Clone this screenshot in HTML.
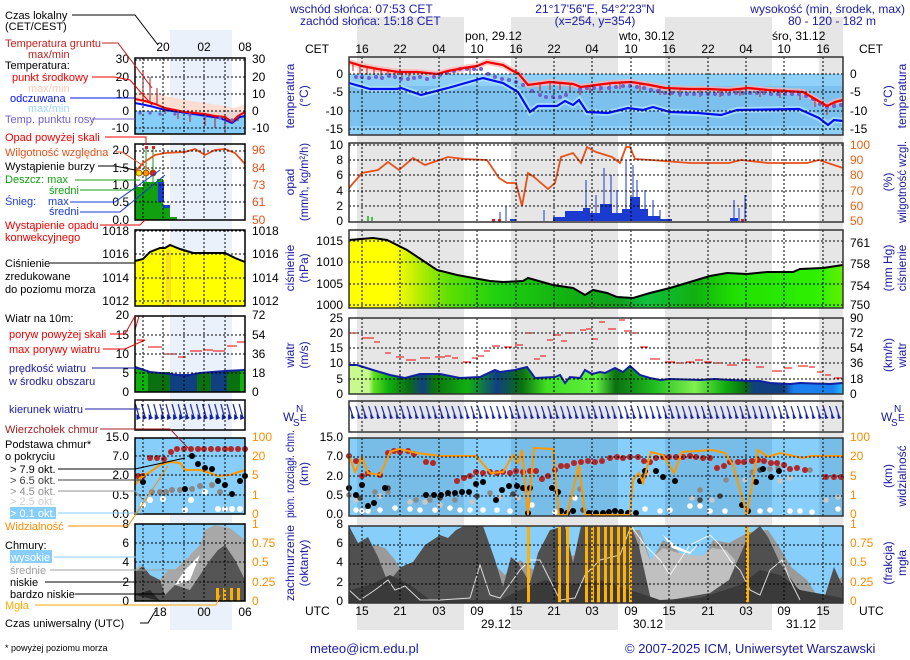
<!DOCTYPE html>
<html><head><meta charset="utf-8"><style>
html,body{margin:0;padding:0;background:#fff}
svg{display:block;font-family:"Liberation Sans",sans-serif}
</style></head><body>
<svg width="910" height="660" viewBox="0 0 910 660" xmlns="http://www.w3.org/2000/svg" font-size="12">
<defs>
<pattern id="wd" x="349" y="402" width="6.4" height="30" patternUnits="userSpaceOnUse">
<path d="M0.5 4 L4 15" stroke="#1020a0" stroke-width="1.2" fill="none"/>
<path d="M2 12 L6 16 L2.5 17 Z" fill="#1020a0"/>
</pattern>
<pattern id="wdm" x="135" y="400" width="6.1" height="30" patternUnits="userSpaceOnUse">
<path d="M0.5 4 L4 17" stroke="#1020a0" stroke-width="1.2" fill="none"/>
<path d="M1.5 14 L6 18 L1.5 20 Z" fill="#1020a0"/>
</pattern>
</defs>

<g fill="#e6e6e6">
<rect x="357" y="17" width="107" height="613"/>
<rect x="511" y="17" width="107" height="613"/>
<rect x="665" y="17" width="107" height="613"/>
<rect x="819" y="17" width="24" height="613"/>
</g>
<rect x="170" y="30" width="62" height="600" fill="#eaf1fb"/>

<g fill="#1a1aa0">
<text x="290" y="13">wschód słońca: 07:53 CET</text>
<text x="300" y="25">zachód słońca: 15:18 CET</text>
<text x="595" y="13" text-anchor="middle">21°17'56"E, 54°2'23"N</text>
<text x="595" y="25" text-anchor="middle">(x=254, y=354)</text>
<text x="905" y="13" text-anchor="end">wysokość (min, środek, max)</text>
<text x="832" y="25" text-anchor="middle">80 - 120 - 182 m</text>
</g>
<g fill="#000">
<text x="465" y="40">pon, 29.12</text>
<text x="619" y="40">wto, 30.12</text>
<text x="772" y="40">śro, 31.12</text>
<text x="305" y="53">CET</text>
<text x="859" y="53">CET</text>
<g text-anchor="middle">
<text x="362" y="53">16</text><text x="400" y="53">22</text><text x="439" y="53">04</text><text x="477" y="53">10</text><text x="516" y="53">16</text><text x="554" y="53">22</text><text x="592" y="53">04</text><text x="631" y="53">10</text><text x="669" y="53">16</text><text x="708" y="53">22</text><text x="746" y="53">04</text><text x="784" y="53">10</text><text x="823" y="53">16</text>
<text x="362" y="615">15</text><text x="400" y="615">21</text><text x="439" y="615">03</text><text x="477" y="615">09</text><text x="516" y="615">15</text><text x="554" y="615">21</text><text x="592" y="615">03</text><text x="631" y="615">09</text><text x="669" y="615">15</text><text x="708" y="615">21</text><text x="746" y="615">03</text><text x="784" y="615">09</text><text x="823" y="615">15</text>
<text x="496" y="628">29.12</text><text x="648" y="628">30.12</text><text x="801" y="628">31.12</text>
</g>
<text x="305" y="615">UTC</text>
<text x="859" y="615">UTC</text>
</g>

<!-- TEMP -->
<rect x="349" y="74" width="494" height="61" fill="#86cdf7" opacity="0.92"/>
<rect x="349" y="86" width="494" height="40" fill="#70b6e6" opacity="0.55"/>
<polyline points="349,62 362,66 378,69 399,72 417,72 437,74 448,71 464,68 477,66 487,62 503,65 513,71 518,73 528,85 550,82 573,84 581,87 596,85 612,83 631,82 650,85 665,88 690,89 708,89 729,90 748,88 768,90 803,92 815,99 827,106 835,102 843,100" fill="none" stroke="#ffb0b0" stroke-width="6" opacity="0.7"/>
<polyline points="349,83 370,89 397,89 401,88 421,95 448,88 483,78 503,83 518,92 530,112 538,106 557,106 565,101 573,105 579,100 587,112 608,113 628,108 643,110 653,107 670,112 698,113 721,115 737,110 799,109 819,118 828,125 834,120 843,121" fill="none" stroke="#b0e4ff" stroke-width="6" opacity="0.8"/>
<g stroke="#c02020" stroke-width="1">
<path d="M353 63v8M360 65v9M367 66v9M374 67v8M381 69v7M388 70v7M395 71v6M402 72v6M409 72v5M470 67v6M540 84v7M550 83v7M560 83v7M570 84v8M580 87v8M590 86v7M600 85v8M610 83v8M620 82v7M640 84v8M660 87v8M670 88v8M680 89v8M700 89v8M720 90v7M740 88v8M760 90v7M780 90v8M800 92v8M815 99v8M827 106v9M835 102v6"/>
</g>
<g fill="#7060d0">
<circle cx="356" cy="77" r="2"/><circle cx="362" cy="77" r="2"/><circle cx="369" cy="78" r="2"/><circle cx="376" cy="77" r="2"/><circle cx="382" cy="78" r="2"/><circle cx="389" cy="76" r="2"/><circle cx="395" cy="77" r="2"/><circle cx="401" cy="79" r="2"/><circle cx="408" cy="79" r="2"/><circle cx="414" cy="78" r="2"/><circle cx="420" cy="77" r="2"/><circle cx="427" cy="79" r="2"/><circle cx="434" cy="77" r="2"/><circle cx="440" cy="75" r="2"/><circle cx="447" cy="73" r="2"/><circle cx="454" cy="71" r="2"/><circle cx="460" cy="69" r="2"/><circle cx="467" cy="69" r="2"/><circle cx="474" cy="69" r="2"/><circle cx="481" cy="69" r="2"/><circle cx="488" cy="74" r="2"/><circle cx="495" cy="77" r="2"/><circle cx="502" cy="79" r="2"/><circle cx="509" cy="80" r="2"/><circle cx="516" cy="82" r="2"/><circle cx="523" cy="85" r="2"/><circle cx="532" cy="91" r="2"/><circle cx="540" cy="95" r="2"/><circle cx="546" cy="97" r="2"/><circle cx="553" cy="97" r="2"/><circle cx="560" cy="97" r="2"/><circle cx="566" cy="95" r="2"/><circle cx="580" cy="89" r="2"/><circle cx="587" cy="88" r="2"/><circle cx="594" cy="88" r="2"/><circle cx="601" cy="88" r="2"/><circle cx="609" cy="88" r="2"/><circle cx="616" cy="87" r="2"/><circle cx="623" cy="86" r="2"/><circle cx="630" cy="86" r="2"/><circle cx="637" cy="87" r="2"/><circle cx="644" cy="88" r="2"/><circle cx="651" cy="90" r="2"/><circle cx="658" cy="91" r="2"/><circle cx="665" cy="93" r="2"/><circle cx="672" cy="93" r="2"/><circle cx="680" cy="94" r="2"/><circle cx="687" cy="94" r="2"/><circle cx="694" cy="94" r="2"/><circle cx="701" cy="94" r="2"/><circle cx="708" cy="94" r="2"/><circle cx="715" cy="94" r="2"/><circle cx="722" cy="94" r="2"/><circle cx="729" cy="94" r="2"/><circle cx="736" cy="93" r="2"/><circle cx="743" cy="93" r="2"/><circle cx="750" cy="93" r="2"/><circle cx="757" cy="93" r="2"/><circle cx="764" cy="93" r="2"/><circle cx="771" cy="94" r="2"/><circle cx="778" cy="94" r="2"/><circle cx="785" cy="94" r="2"/><circle cx="792" cy="94" r="2"/><circle cx="799" cy="94" r="2"/><circle cx="806" cy="96" r="2"/><circle cx="813" cy="99" r="2"/><circle cx="820" cy="104" r="2"/><circle cx="827" cy="107" r="2"/><circle cx="834" cy="106" r="2"/><circle cx="841" cy="105" r="2"/>
</g>
<polyline points="349,62 362,66 378,69 399,72 417,72 437,74 448,71 464,68 477,66 487,62 503,65 513,71 518,73 528,85 550,82 573,84 581,87 596,85 612,83 631,82 650,85 665,88 690,89 708,89 729,90 748,88 768,90 803,92 815,99 827,106 835,102 843,100" fill="none" stroke="#f00000" stroke-width="2.2"/>
<polyline points="349,83 370,89 397,89 401,88 421,95 448,88 483,78 503,83 518,92 530,112 538,106 557,106 565,101 573,105 579,100 587,112 608,113 628,108 643,110 653,107 670,112 698,113 721,115 737,110 799,109 819,118 828,125 834,120 843,121" fill="none" stroke="#0010f0" stroke-width="2.2"/>

<!-- PRECIP -->
<g fill="#1a3ad0">
<rect x="553" y="217" width="12" height="4"/><rect x="565" y="211" width="18" height="10"/><rect x="583" y="208" width="7" height="13"/><rect x="590" y="213" width="10" height="8"/><rect x="600" y="204" width="12" height="17"/><rect x="612" y="213" width="10" height="8"/><rect x="622" y="209" width="8" height="12"/><rect x="630" y="197" width="10" height="24"/><rect x="640" y="209" width="8" height="12"/><rect x="648" y="216" width="12" height="5"/><rect x="660" y="219" width="12" height="2"/><rect x="730" y="218" width="8" height="3"/><rect x="510" y="219" width="6" height="2"/>
</g>
<g stroke="#1a3ad0" stroke-width="1">
<path d="M586 221V180M596 221V195M604 221V168M611 221V175M617 221V190M626 221V160M633 221V165M637 221V180M645 221V190M653 221V200M660 221V210M734 221V200M739 221V208M745 221V195M500 221V212M506 221V206M544 221V210"/>
</g>
<path d="M368 221v-5M372 221v-4" stroke="#10b010" stroke-width="1.5"/>
<rect x="492" y="219" width="3" height="3" fill="#e02020"/><rect x="498" y="219" width="3" height="3" fill="#e02020"/><rect x="741" y="219" width="3" height="3" fill="#e02020"/>
<polyline points="349,188 362,173 378,170 388,162 399,170 413,158 425,165 448,157 464,159 487,160 499,178 507,183 516,183 522,206 528,173 534,177 548,189 555,183 561,157 573,153 581,163 587,147 596,152 612,157 620,163 626,147 630,147 635,159 651,160 690,163 729,163 741,160 768,163 807,163 819,160 843,168" fill="none" stroke="#e8501a" stroke-width="1.8"/>

<!-- PRESSURE -->
<defs>
<linearGradient id="pg" x1="349" x2="843" gradientUnits="userSpaceOnUse">
<stop offset="0" stop-color="#ffff00"/><stop offset="0.09" stop-color="#ffff00"/><stop offset="0.13" stop-color="#c8f000"/><stop offset="0.2" stop-color="#60e000"/><stop offset="0.3" stop-color="#20d010"/><stop offset="0.45" stop-color="#10b010"/><stop offset="0.55" stop-color="#10a020"/><stop offset="0.6" stop-color="#10c040"/><stop offset="0.7" stop-color="#10b010"/><stop offset="0.78" stop-color="#20e000"/><stop offset="0.95" stop-color="#30f000"/><stop offset="1" stop-color="#60f000"/>
</linearGradient>
</defs>
<polygon points="349,240 373,238 387,240 407,250 437,270 457,275 490,281 503,282 523,281 528,278 553,285 573,288 585,295 593,290 607,293 617,297 633,298 650,293 670,288 690,282 710,276 727,273 747,274 767,272 793,272 800,269 823,268 843,265 843,308 349,308" fill="url(#pg)"/>
<polyline points="349,240 373,238 387,240 407,250 437,270 457,275 490,281 503,282 523,281 528,278 553,285 573,288 585,295 593,290 607,293 617,297 633,298 650,293 670,288 690,282 710,276 727,273 747,274 767,272 793,272 800,269 823,268 843,265" fill="none" stroke="#000" stroke-width="2"/>

<!-- WIND -->
<defs>
<linearGradient id="wg" x1="349" x2="843" gradientUnits="userSpaceOnUse">
<stop offset="0" stop-color="#c8f890"/><stop offset="0.04" stop-color="#c8f890"/><stop offset="0.05" stop-color="#60e020"/><stop offset="0.08" stop-color="#10b010"/><stop offset="0.12" stop-color="#0a7010"/><stop offset="0.15" stop-color="#104080"/><stop offset="0.17" stop-color="#0a7010"/><stop offset="0.24" stop-color="#10b010"/><stop offset="0.3" stop-color="#104080"/><stop offset="0.35" stop-color="#0a7010"/><stop offset="0.4" stop-color="#40e020"/><stop offset="0.5" stop-color="#60f040"/><stop offset="0.54" stop-color="#0a7010"/><stop offset="0.62" stop-color="#20c020"/><stop offset="0.7" stop-color="#80f050"/><stop offset="0.76" stop-color="#10b010"/><stop offset="0.8" stop-color="#0a7010"/><stop offset="0.82" stop-color="#104080"/><stop offset="0.88" stop-color="#104080"/><stop offset="0.9" stop-color="#1a80f0"/><stop offset="0.98" stop-color="#1a80f0"/><stop offset="1" stop-color="#20c0ff"/>
</linearGradient>
</defs>
<polygon points="349,365 357,365 373,370 390,375 405,378 420,374 440,374 460,378 480,377 495,370 500,372 515,370 527,367 535,378 555,377 560,375 565,383 570,377 580,378 585,370 592,374 600,372 605,373 615,368 623,372 630,366 640,375 650,378 660,380 670,379 700,380 715,379 730,380 750,381 760,381 770,383 790,384 800,383 830,384 843,383 843,394 349,394" fill="url(#wg)"/>
<polyline points="349,365 357,365 373,370 390,375 405,378 420,374 440,374 460,378 480,377 495,370 500,372 515,370 527,367 535,378 555,377 560,375 565,383 570,377 580,378 585,370 592,374 600,372 605,373 615,368 623,372 630,366 640,375 650,378 660,380 670,379 700,380 715,379 730,380 750,381 760,381 770,383 790,384 800,383 830,384 843,383" fill="none" stroke="#1020a0" stroke-width="2"/>
<g stroke="#f00000" stroke-width="1">
<path d="M349 333h10M362 338h12M374 342h6M385 353h6M396 357h8M406 360h10M420 358h10M435 357h10M445 356h6M452 358h6M463 362h8M472 358h6M478 356h6M484 351h6M492 346h8M504 347h8M515 345h8M525 333h8M534 359h6M540 356h6M547 340h6M553 335h8M561 341h6M566 333h8M580 330h6M586 329h6M592 339h6M599 322h6M608 329h8M619 320h6M624 331h6M631 333h6M640 347h8M650 359h10M665 362h10M676 363h8M686 362h8M695 360h8M704 362h8M713 363h8M727 365h10M742 360h8M756 367h8M772 371h10M784 368h8M798 366h10M809 367h6M817 372h6M825 375h6M834 378h8"/>
</g>

<rect x="349" y="402" width="494" height="28" fill="url(#wd)"/>

<!-- CLOUD HEIGHT -->
<rect x="349" y="438" width="494" height="78" fill="#87cefa"/>
<g fill="#78bce8">
<rect x="357" y="438" width="107" height="78"/><rect x="511" y="438" width="107" height="78"/><rect x="665" y="438" width="107" height="78"/><rect x="819" y="438" width="24" height="78"/>
</g>
<g fill="#fff">
<circle cx="356" cy="510" r="2.8"/><circle cx="362" cy="511" r="2.8"/><circle cx="368" cy="511" r="2.8"/><circle cx="380" cy="510" r="2.8"/><circle cx="395" cy="508" r="2.8"/><circle cx="410" cy="509" r="2.8"/><circle cx="420" cy="510" r="2.8"/><circle cx="435" cy="510" r="2.8"/><circle cx="450" cy="508" r="2.8"/><circle cx="460" cy="510" r="2.8"/><circle cx="470" cy="510" r="2.8"/><circle cx="483" cy="510" r="2.8"/><circle cx="497" cy="510" r="2.8"/><circle cx="510" cy="511" r="2.8"/><circle cx="532" cy="505" r="2.8"/><circle cx="555" cy="512" r="2.8"/><circle cx="575" cy="498" r="2.8"/><circle cx="645" cy="509" r="2.8"/><circle cx="660" cy="511" r="2.8"/><circle cx="670" cy="510" r="2.8"/><circle cx="690" cy="506" r="2.8"/><circle cx="700" cy="506" r="2.8"/><circle cx="710" cy="511" r="2.8"/><circle cx="725" cy="511" r="2.8"/><circle cx="760" cy="511" r="2.8"/><circle cx="770" cy="510" r="2.8"/><circle cx="790" cy="511" r="2.8"/><circle cx="800" cy="511" r="2.8"/><circle cx="812" cy="512" r="2.8"/><circle cx="838" cy="509" r="2.8"/>
</g>
<g fill="#c8c8c8">
<circle cx="356" cy="500" r="2.8"/><circle cx="380" cy="496" r="2.8"/><circle cx="410" cy="502" r="2.8"/><circle cx="425" cy="502" r="2.8"/><circle cx="440" cy="505" r="2.8"/><circle cx="472" cy="502" r="2.8"/><circle cx="500" cy="497" r="2.8"/><circle cx="518" cy="498" r="2.8"/><circle cx="648" cy="473" r="2.8"/><circle cx="692" cy="498" r="2.8"/><circle cx="712" cy="500" r="2.8"/><circle cx="745" cy="480" r="2.8"/><circle cx="780" cy="481" r="2.8"/><circle cx="790" cy="478" r="2.8"/><circle cx="826" cy="500" r="2.8"/><circle cx="838" cy="497" r="2.8"/>
</g>
<g fill="#8a8a8a">
<circle cx="349" cy="495" r="2.8"/><circle cx="375" cy="492" r="2.8"/><circle cx="388" cy="492" r="2.8"/><circle cx="416" cy="500" r="2.8"/><circle cx="430" cy="500" r="2.8"/><circle cx="455" cy="500" r="2.8"/><circle cx="490" cy="493" r="2.8"/><circle cx="526" cy="490" r="2.8"/><circle cx="580" cy="489" r="2.8"/><circle cx="650" cy="462" r="2.8"/><circle cx="700" cy="490" r="2.8"/><circle cx="726" cy="480" r="2.8"/><circle cx="752" cy="472" r="2.8"/><circle cx="770" cy="469" r="2.8"/><circle cx="778" cy="468" r="2.8"/><circle cx="810" cy="470" r="2.8"/>
</g>
<g fill="#484848">
<circle cx="360" cy="498" r="2.8"/><circle cx="388" cy="488" r="2.8"/><circle cx="440" cy="498" r="2.8"/><circle cx="477" cy="496" r="2.8"/><circle cx="513" cy="494" r="2.8"/><circle cx="583" cy="510" r="2.8"/><circle cx="644" cy="476" r="2.8"/><circle cx="700" cy="500" r="2.8"/><circle cx="720" cy="496" r="2.8"/><circle cx="760" cy="470" r="2.8"/>
</g>
<g fill="#000">
<circle cx="349" cy="488" r="3"/><circle cx="356" cy="495" r="3"/><circle cx="362" cy="485" r="3"/><circle cx="368" cy="506" r="3"/><circle cx="374" cy="503" r="3"/><circle cx="385" cy="488" r="3"/><circle cx="426" cy="495" r="3"/><circle cx="434" cy="495" r="3"/><circle cx="441" cy="495" r="3"/><circle cx="448" cy="493" r="3"/><circle cx="455" cy="493" r="3"/><circle cx="462" cy="492" r="3"/><circle cx="469" cy="492" r="3"/><circle cx="476" cy="484" r="3"/><circle cx="483" cy="482" r="3"/><circle cx="496" cy="500" r="3"/><circle cx="502" cy="490" r="3"/><circle cx="509" cy="486" r="3"/><circle cx="517" cy="486" r="3"/><circle cx="523" cy="488" r="3"/><circle cx="530" cy="488" r="3"/><circle cx="528" cy="513" r="3"/><circle cx="552" cy="488" r="3"/><circle cx="558" cy="492" r="3"/><circle cx="561" cy="511" r="3"/><circle cx="567" cy="513" r="3"/><circle cx="573" cy="511" r="3"/><circle cx="589" cy="513" r="3"/><circle cx="596" cy="513" r="3"/><circle cx="603" cy="513" r="3"/><circle cx="609" cy="512" r="3"/><circle cx="615" cy="511" r="3"/><circle cx="621" cy="512" r="3"/><circle cx="628" cy="513" r="3"/><circle cx="636" cy="513" r="3"/><circle cx="640" cy="481" r="3"/><circle cx="645" cy="471" r="3"/><circle cx="656" cy="471" r="3"/><circle cx="663" cy="477" r="3"/><circle cx="675" cy="481" r="3"/><circle cx="742" cy="505" r="3"/><circle cx="748" cy="511" r="3"/><circle cx="756" cy="482" r="3"/><circle cx="763" cy="469" r="3"/><circle cx="771" cy="477" r="3"/><circle cx="779" cy="471" r="3"/>
</g>
<g fill="#b02828">
<circle cx="349" cy="456" r="3"/><circle cx="356" cy="461" r="3"/><circle cx="362" cy="476" r="3"/><circle cx="368" cy="473" r="3"/><circle cx="380" cy="475" r="3"/><circle cx="388" cy="453" r="3"/><circle cx="394" cy="451" r="3"/><circle cx="400" cy="452" r="3"/><circle cx="408" cy="451" r="3"/><circle cx="414" cy="454" r="3"/><circle cx="426" cy="462" r="3"/><circle cx="433" cy="463" r="3"/><circle cx="457" cy="481" r="3"/><circle cx="464" cy="478" r="3"/><circle cx="470" cy="476" r="3"/><circle cx="476" cy="472" r="3"/><circle cx="483" cy="473" r="3"/><circle cx="490" cy="472" r="3"/><circle cx="497" cy="473" r="3"/><circle cx="503" cy="472" r="3"/><circle cx="510" cy="473" r="3"/><circle cx="516" cy="471" r="3"/><circle cx="523" cy="472" r="3"/><circle cx="530" cy="471" r="3"/><circle cx="536" cy="471" r="3"/><circle cx="542" cy="479" r="3"/><circle cx="548" cy="476" r="3"/><circle cx="555" cy="470" r="3"/><circle cx="561" cy="466" r="3"/><circle cx="567" cy="466" r="3"/><circle cx="574" cy="463" r="3"/><circle cx="581" cy="462" r="3"/><circle cx="588" cy="461" r="3"/><circle cx="595" cy="462" r="3"/><circle cx="602" cy="461" r="3"/><circle cx="610" cy="458" r="3"/><circle cx="617" cy="457" r="3"/><circle cx="623" cy="458" r="3"/><circle cx="630" cy="457" r="3"/><circle cx="638" cy="457" r="3"/><circle cx="644" cy="461" r="3"/><circle cx="650" cy="462" r="3"/><circle cx="656" cy="458" r="3"/><circle cx="663" cy="457" r="3"/><circle cx="669" cy="457" r="3"/><circle cx="676" cy="457" r="3"/><circle cx="683" cy="457" r="3"/><circle cx="690" cy="456" r="3"/><circle cx="696" cy="457" r="3"/><circle cx="703" cy="458" r="3"/><circle cx="710" cy="458" r="3"/><circle cx="717" cy="468" r="3"/><circle cx="724" cy="466" r="3"/><circle cx="730" cy="462" r="3"/><circle cx="738" cy="462" r="3"/><circle cx="744" cy="462" r="3"/><circle cx="752" cy="461" r="3"/><circle cx="758" cy="460" r="3"/><circle cx="764" cy="461" r="3"/><circle cx="771" cy="463" r="3"/><circle cx="777" cy="463" r="3"/><circle cx="784" cy="465" r="3"/><circle cx="790" cy="469" r="3"/><circle cx="797" cy="468" r="3"/><circle cx="805" cy="470" r="3"/><circle cx="826" cy="477" r="3"/><circle cx="834" cy="477" r="3"/><circle cx="841" cy="477" r="3"/>
</g>
<polyline points="349,455 355,472 362,457 368,473 380,475 390,452 399,449 417,453 440,456 476,456 491,473 503,472 513,455 518,463 522,450 528,515 534,448 553,449 559,515 567,515 579,465 585,515 630,515 633,480 639,473 643,483 651,452 663,455 674,473 682,452 713,450 725,453 733,465 747,515 758,450 768,457 780,453 803,458 811,456 843,456" fill="none" stroke="#ff9900" stroke-width="2"/>

<!-- CLOUD COVER -->
<rect x="349" y="526" width="494" height="77" fill="#87cefa"/>
<polygon points="349,603 349,560 365,552 375,545 385,548 395,560 410,585 420,590 440,590 460,570 475,545 490,560 505,575 520,560 540,575 560,560 575,555 600,560 615,540 625,530 640,530 651,562 663,540 674,547 686,560 702,563 713,540 729,543 749,532 768,530 780,548 791,567 807,580 820,600 830,590 843,575 843,603" fill="#9a9a9a"/>
<polygon points="640,535 650,560 663,548 675,552 690,555 702,556 712,548 726,550 735,560 730,600 640,600" fill="#c0c0c0"/>
<polygon points="663,535 672,548 690,554 702,540 690,552 676,546" fill="#fff"/>
<polygon points="349,526 358,543 368,537 378,557 388,583 401,567 413,562 425,545 440,535 448,538 456,530 464,526 483,526 495,560 503,587 511,557 518,563 530,583 538,553 550,530 565,526 573,563 581,526 631,526 639,547 651,600 670,600 710,593 729,580 749,535 760,526 768,537 780,563 807,602 823,602 834,567 843,587 843,603 349,603" fill="#505050"/>
<polygon points="349,603 349,590 370,585 390,575 410,585 430,600 500,600 520,590 545,580 570,585 600,580 630,590 660,600 700,598 740,585 760,570 780,575 800,590 843,598 843,603" fill="#3a3a3a"/>
<polyline points="349,590 360,600 375,590 388,580 395,590 405,586 420,600 440,600 470,598 480,565 490,595 500,598 520,570 530,560 540,560 560,600 575,598 585,575 600,560 620,555 631,526 645,545 660,560 670,575 690,545 710,535 720,545 730,560 740,570 750,590 760,595 770,570 782,560 790,580 800,600" fill="none" stroke="#ffffff" stroke-width="1" opacity="0.8"/>
<g fill="#ffb000">
<rect x="527" y="526" width="3" height="77"/><rect x="558" y="526" width="3" height="77"/><rect x="566" y="526" width="3" height="77"/><rect x="585" y="526" width="3" height="77"/><rect x="591" y="526" width="3" height="77"/><rect x="597" y="526" width="3" height="77"/><rect x="604" y="526" width="3" height="77"/><rect x="610" y="526" width="3" height="77"/><rect x="617" y="526" width="3" height="77"/><rect x="623" y="526" width="3" height="77"/><rect x="629" y="526" width="3" height="77"/><rect x="746" y="526" width="3" height="77"/>
</g>

<g stroke="#000" stroke-width="1" stroke-dasharray="2,2" fill="none">
<path d="M362 57V135M400 57V135M439 57V135M477 57V135M516 57V135M554 57V135M592 57V135M631 57V135M669 57V135M708 57V135M746 57V135M784 57V135M823 57V135 M349 74H843M349 92H843M349 111H843M349 129H843"/>
<path d="M362 143V222M400 143V222M439 143V222M477 143V222M516 143V222M554 143V222M592 143V222M631 143V222M669 143V222M708 143V222M746 143V222M784 143V222M823 143V222 M349 145H843M349 160H843M349 175H843M349 191H843M349 206H843"/>
<path d="M362 230V308M400 230V308M439 230V308M477 230V308M516 230V308M554 230V308M592 230V308M631 230V308M669 230V308M708 230V308M746 230V308M784 230V308M823 230V308 M349 241H843M349 262H843M349 284H843M349 305H843"/>
<path d="M362 318V394M400 318V394M439 318V394M477 318V394M516 318V394M554 318V394M592 318V394M631 318V394M669 318V394M708 318V394M746 318V394M784 318V394M823 318V394 M349 333H843M349 348H843M349 363H843M349 379H843"/>
<path d="M362 401V432M400 401V432M439 401V432M477 401V432M516 401V432M554 401V432M592 401V432M631 401V432M669 401V432M708 401V432M746 401V432M784 401V432M823 401V432"/>
<path d="M362 438V516M400 438V516M439 438V516M477 438V516M516 438V516M554 438V516M592 438V516M631 438V516M669 438V516M708 438V516M746 438V516M784 438V516M823 438V516 M349 457H843M349 476H843M349 496H843"/>
<path d="M362 526V603M400 526V603M439 526V603M477 526V603M516 526V603M554 526V603M592 526V603M631 526V603M669 526V603M708 526V603M746 526V603M784 526V603M823 526V603 M349 545H843M349 564H843M349 584H843"/>
</g>
<g fill="none" stroke="#333" stroke-width="1.5">
<rect x="349" y="57" width="494" height="78"/><rect x="349" y="143" width="494" height="79"/><rect x="349" y="230" width="494" height="78"/><rect x="349" y="318" width="494" height="76"/><rect x="349" y="401" width="494" height="31"/><rect x="349" y="438" width="494" height="78"/><rect x="349" y="526" width="494" height="77"/>
</g>

<g text-anchor="end" fill="#000">
<text x="343" y="78">0</text><text x="343" y="96">-5</text><text x="343" y="115">-10</text><text x="343" y="133">-15</text>
<text x="343" y="149">10</text><text x="343" y="164">8</text><text x="343" y="179">6</text><text x="343" y="195">4</text><text x="343" y="210">2</text><text x="343" y="225">0</text>
<text x="343" y="245">1015</text><text x="343" y="266">1010</text><text x="343" y="288">1005</text><text x="343" y="309">1000</text>
<text x="343" y="322">25</text><text x="343" y="337">20</text><text x="343" y="352">15</text><text x="343" y="367">10</text><text x="343" y="383">5</text><text x="343" y="398">0</text>
<text x="343" y="441">15.0</text><text x="343" y="460">7.0</text><text x="343" y="480">2.0</text><text x="343" y="499">0.5</text><text x="343" y="518">0.0</text>
<text x="343" y="528">8</text><text x="343" y="547">6</text><text x="343" y="566">4</text><text x="343" y="586">2</text><text x="343" y="605">0</text>
</g>
<g fill="#000">
<text x="850" y="78">0</text><text x="850" y="96">-5</text><text x="850" y="115">-10</text><text x="850" y="133">-15</text>
<text x="850" y="247">761</text><text x="850" y="268">758</text><text x="850" y="290">754</text><text x="850" y="309">750</text>
<text x="850" y="322">90</text><text x="850" y="337">72</text><text x="850" y="352">54</text><text x="850" y="367">36</text><text x="850" y="383">18</text><text x="850" y="398">0</text>
</g>
<g fill="#f06010">
<text x="850" y="149">100</text><text x="850" y="164">90</text><text x="850" y="179">80</text><text x="850" y="195">70</text><text x="850" y="210">60</text><text x="850" y="225">50</text>
</g>
<g fill="#ff8c00">
<text x="850" y="441">100</text><text x="850" y="460">20</text><text x="850" y="480">5</text><text x="850" y="499">1</text><text x="850" y="518">0</text>
<text x="850" y="528">1</text><text x="850" y="547">0.75</text><text x="850" y="566">0.5</text><text x="850" y="586">0.25</text><text x="850" y="605">0</text>
</g>

<g fill="#1a1aa0" text-anchor="middle" font-size="12">
<text transform="translate(294,96) rotate(-90)">temperatura</text>
<text transform="translate(308,96) rotate(-90)">(°C)</text>
<text transform="translate(294,182) rotate(-90)">opad</text>
<text transform="translate(308,182) rotate(-90)" textLength="78" lengthAdjust="spacingAndGlyphs">(mm/h, kg/m²/h)</text>
<text transform="translate(294,268) rotate(-90)">ciśnienie</text>
<text transform="translate(308,268) rotate(-90)">(hPa)</text>
<text transform="translate(294,355) rotate(-90)">wiatr</text>
<text transform="translate(308,355) rotate(-90)">(m/s)</text>
<text transform="translate(294,474) rotate(-90)" textLength="88" lengthAdjust="spacingAndGlyphs">pion. rozciągł. chm.</text>
<text transform="translate(308,474) rotate(-90)">(km)</text>
<text transform="translate(294,563) rotate(-90)" textLength="76" lengthAdjust="spacingAndGlyphs">zachmurzenie</text>
<text transform="translate(308,563) rotate(-90)">(oktanty)</text>
<text transform="translate(892,96) rotate(-90)">(°C)</text>
<text transform="translate(906,96) rotate(-90)">temperatura</text>
<text transform="translate(892,182) rotate(-90)">(%)</text>
<text transform="translate(906,182) rotate(-90)" textLength="82" lengthAdjust="spacingAndGlyphs">wilgotność wzgl.</text>
<text transform="translate(892,268) rotate(-90)">(mm Hg)</text>
<text transform="translate(906,268) rotate(-90)">ciśnienie</text>
<text transform="translate(892,355) rotate(-90)">(km/h)</text>
<text transform="translate(906,355) rotate(-90)">wiatr</text>
<text transform="translate(892,476) rotate(-90)">(km)</text>
<text transform="translate(906,476) rotate(-90)">widzialność</text>
<text transform="translate(892,563) rotate(-90)">(frakcja)</text>
<text transform="translate(906,563) rotate(-90)">mgła</text>
</g>
<g fill="#1a1aa0" font-size="12">
<text x="283" y="421">W</text><text x="293" y="426" font-size="10">S</text><text x="296" y="412" font-size="10">N</text><text x="300" y="421" font-size="10">E</text>
<text x="881" y="421">W</text><text x="891" y="426" font-size="10">S</text><text x="894" y="412" font-size="10">N</text><text x="898" y="421" font-size="10">E</text>
</g>

<g fill="#1a1aa0" font-size="13">
<text x="310" y="653">meteo@icm.edu.pl</text>
<text x="625" y="653">© 2007-2025 ICM, Uniwersytet Warszawski</text>
</g>

<!-- LEGEND MINI -->
<rect x="135" y="111" width="110" height="23" fill="#86cdf7"/>
<polygon points="135,92 160,95 185,100 205,103 225,106 235,108 245,104 245,115 232,122 215,118 195,115 175,112 155,106 135,101" fill="#ffd8c8" opacity="0.8"/>
<polyline points="135,103 150,106 165,110 180,112 200,115 220,118 232,123 240,117 245,116" fill="none" stroke="#0010f0" stroke-width="2"/>
<polyline points="135,99 145,101 155,104 165,108 175,110 185,112 195,113 205,114 215,116 225,117 232,122 238,116 245,112" fill="none" stroke="#f00000" stroke-width="2"/>
<path d="M143 100V70M150 102V77M157 104V88M165 108v6M178 111v8M190 112v10M205 114v12M215 116v12M225 117v16M238 116v5" stroke="#b02020"/>
<g fill="#7060d0"><circle cx="140" cy="113" r="1.6"/><circle cx="150" cy="113" r="1.6"/><circle cx="160" cy="114" r="1.6"/><circle cx="175" cy="114" r="1.6"/><circle cx="190" cy="115" r="1.6"/><circle cx="205" cy="117" r="1.6"/><circle cx="220" cy="118" r="1.6"/><circle cx="232" cy="120" r="1.6"/></g>
<rect x="135" y="187" width="8" height="33" fill="#10a010"/><rect x="143" y="182" width="14" height="38" fill="#10a010"/><rect x="157" y="179" width="6" height="41" fill="#10a010"/><rect x="158" y="182" width="6" height="20" fill="#1a3ad0"/><rect x="163" y="205" width="7" height="15" fill="#1a3ad0"/><rect x="163" y="208" width="7" height="12" fill="#10a010"/><rect x="170" y="217" width="7" height="3" fill="#10a010"/>
<path d="M146 182V148M153 182V148" stroke="#10a010"/>
<rect x="145" y="146" width="3" height="3" fill="#e02020"/><rect x="152" y="146" width="3" height="3" fill="#e02020"/>
<circle cx="139" cy="173" r="3" fill="#ffe000" stroke="#804000" stroke-width="0.8"/><circle cx="146" cy="173" r="3" fill="#ff9000" stroke="#804000" stroke-width="0.8"/><circle cx="153" cy="173" r="3" fill="#e02020" stroke="#804000" stroke-width="0.8"/>
<polyline points="135,172 143,163 155,155 165,153 185,152 195,149 205,155 215,150 225,149 235,153 245,164" fill="none" stroke="#e8501a" stroke-width="1.8"/>
<polygon points="135,261 143,259 150,252 160,248 165,248 170,245 180,249 193,253 225,253 235,258 245,262 245,306 135,306" fill="#ffff00"/>
<rect x="166" y="250" width="5" height="56" fill="#ffe020"/>
<polyline points="135,261 143,259 150,252 160,248 165,248 170,245 180,249 193,253 225,253 235,258 245,262" fill="none" stroke="#000" stroke-width="2"/>
<polygon points="135,367 150,372 170,374 185,376 200,373 225,371 245,370 245,392 135,392" fill="#10b010"/>
<rect x="148" y="372" width="22" height="20" fill="#0a7010"/><rect x="170" y="374" width="27" height="18" fill="#104080"/><rect x="197" y="373" width="14" height="19" fill="#0a7010"/><rect x="211" y="372" width="16" height="20" fill="#104080"/><rect x="227" y="371" width="13" height="21" fill="#0a7010"/>
<polyline points="135,367 150,372 170,374 185,376 200,373 225,371 245,370" fill="none" stroke="#1020a0" stroke-width="2"/>
<path d="M135 330l4-14M137 340h8M148 347h14M165 354h12M178 357h8M190 351h12M203 350h10M213 351h12M227 346h10M237 342h8" stroke="#f00000"/>
<rect x="135" y="401" width="110" height="28" fill="url(#wdm)"/>
<rect x="135" y="438" width="110" height="76" fill="#87cefa"/>
<g fill="#b02828"><circle cx="138" cy="476" r="3"/><circle cx="143" cy="476" r="3"/><circle cx="150" cy="458" r="3"/><circle cx="157" cy="458" r="3"/><circle cx="164" cy="459" r="3"/><circle cx="171" cy="452" r="3"/><circle cx="177" cy="449" r="3"/><circle cx="184" cy="449" r="3"/><circle cx="191" cy="449" r="3"/><circle cx="198" cy="449" r="3"/><circle cx="204" cy="449" r="3"/><circle cx="211" cy="449" r="3"/><circle cx="218" cy="449" r="3"/><circle cx="225" cy="449" r="3"/><circle cx="231" cy="449" r="3"/><circle cx="238" cy="449" r="3"/><circle cx="245" cy="449" r="3"/></g>
<g fill="#888"><circle cx="152" cy="492" r="3"/><circle cx="160" cy="492" r="3"/><circle cx="166" cy="492" r="3"/><circle cx="172" cy="490" r="3"/><circle cx="180" cy="490" r="3"/><circle cx="192" cy="489" r="3"/><circle cx="200" cy="486" r="3"/><circle cx="212" cy="485" r="3"/><circle cx="220" cy="492" r="3"/><circle cx="225" cy="485" r="3"/></g>
<g fill="#000"><circle cx="143" cy="482" r="3"/><circle cx="185" cy="489" r="3"/><circle cx="192" cy="456" r="3"/><circle cx="198" cy="464" r="3"/><circle cx="205" cy="468" r="3"/><circle cx="212" cy="469" r="3"/><circle cx="218" cy="481" r="3"/><circle cx="225" cy="485" r="3"/><circle cx="232" cy="494" r="3"/><circle cx="240" cy="481" r="3"/><circle cx="245" cy="476" r="3"/></g>
<g fill="#fff"><circle cx="143" cy="505" r="3"/><circle cx="150" cy="500" r="3"/><circle cx="163" cy="499" r="3"/><circle cx="185" cy="510" r="3"/><circle cx="191" cy="500" r="3"/><circle cx="205" cy="492" r="3"/><circle cx="218" cy="509" r="3"/><circle cx="225" cy="509" r="3"/><circle cx="232" cy="509" r="3"/><circle cx="240" cy="509" r="3"/></g>
<polyline points="135,485 140,478 150,472 160,465 170,462 180,463 185,470 200,470 210,473 218,476 230,475 245,470" fill="none" stroke="#ff9900" stroke-width="2"/>
<rect x="135" y="524" width="110" height="77" fill="#87cefa"/>
<polygon points="135,570 140,565 145,570 150,578 160,580 168,570 175,570 185,560 195,550 200,545 205,530 215,525 230,528 245,540 245,601 135,601" fill="#a8a8a8"/>
<polygon points="175,585 185,570 195,560 200,555 190,580" fill="#fff"/>
<polygon points="135,572 143,566 150,575 160,580 165,595 175,585 190,590 200,575 210,560 218,550 225,545 235,560 245,580 245,601 135,601" fill="#555"/>
<polygon points="135,595 150,590 160,601" fill="#2a2a2a"/>
<g fill="#ffb000"><rect x="216" y="588" width="3" height="13"/><rect x="223" y="588" width="3" height="13"/><rect x="230" y="588" width="3" height="13"/><rect x="237" y="588" width="3" height="13"/></g>
<g stroke="#000" stroke-dasharray="2,2" fill="none">
<path d="M143 58V134M163 58V134M184 58V134M204 58V134M225 58V134M135 60H245M135 77H245M135 94H245M135 111H245M135 128H245"/>
<path d="M143 144V220M163 144V220M184 144V220M204 144V220M225 144V220M135 151H245M135 168H245M135 185H245M135 202H245"/>
<path d="M143 230V306M163 230V306M184 230V306M204 230V306M225 230V306M135 231H245M135 254H245M135 278H245M135 301H245"/>
<path d="M143 316V392M163 316V392M184 316V392M204 316V392M225 316V392M135 335H245M135 354H245M135 373H245"/>
<path d="M143 400V430M163 400V430M184 400V430M204 400V430M225 400V430"/>
<path d="M143 438V514M163 438V514M184 438V514M204 438V514M225 438V514M135 456H245M135 475H245M135 495H245"/>
<path d="M143 524V601M163 524V601M184 524V601M204 524V601M225 524V601M135 543H245M135 562H245M135 582H245"/>
</g>
<g fill="none" stroke="#000" stroke-width="1.5">
<rect x="135" y="58" width="110" height="76"/><rect x="135" y="144" width="110" height="76"/><rect x="135" y="230" width="110" height="76"/><rect x="135" y="316" width="110" height="76"/><rect x="135" y="400" width="110" height="30"/><rect x="135" y="438" width="110" height="76"/><rect x="135" y="524" width="110" height="77"/>
</g>
<g text-anchor="end" fill="#000">
<text x="129" y="63">30</text><text x="129" y="81">20</text><text x="129" y="98">10</text><text x="129" y="115">0</text><text x="129" y="132">-10</text>
<text x="129" y="154">2.0</text><text x="129" y="172">1.5</text><text x="129" y="189">1.0</text><text x="129" y="206">0.5</text><text x="129" y="224">0.0</text>
<text x="129" y="235">1018</text><text x="129" y="258">1016</text><text x="129" y="282">1014</text><text x="129" y="305">1012</text>
<text x="129" y="319">20</text><text x="129" y="339">15</text><text x="129" y="358">10</text><text x="129" y="377">5</text><text x="129" y="396">0</text>
<text x="129" y="441">15.0</text><text x="129" y="460">7.0</text><text x="129" y="479">2.0</text><text x="129" y="499">0.5</text><text x="129" y="518">0.0</text>
<text x="129" y="528">8</text><text x="129" y="547">6</text><text x="129" y="566">4</text><text x="129" y="586">2</text><text x="129" y="605">0</text>
</g>
<g fill="#000">
<text x="252" y="63">30</text><text x="252" y="81">20</text><text x="252" y="98">10</text><text x="252" y="115">0</text><text x="252" y="132">-10</text>
<text x="252" y="235">1018</text><text x="252" y="258">1016</text><text x="252" y="282">1014</text><text x="252" y="305">1012</text>
<text x="252" y="319">72</text><text x="252" y="339">54</text><text x="252" y="358">36</text><text x="252" y="377">18</text><text x="252" y="396">0</text>
<text x="163" y="51" text-anchor="middle">20</text><text x="204" y="51" text-anchor="middle">02</text><text x="245" y="51" text-anchor="middle">08</text>
<text x="160" y="616" text-anchor="middle">18</text><text x="204" y="616" text-anchor="middle">00</text><text x="245" y="616" text-anchor="middle">06</text>
</g>
<g fill="#e8501a"><text x="252" y="154">96</text><text x="252" y="172">84</text><text x="252" y="189">73</text><text x="252" y="206">61</text><text x="252" y="224">50</text></g>
<g fill="#ff8c00"><text x="252" y="441">100</text><text x="252" y="460">20</text><text x="252" y="479">5</text><text x="252" y="499">1</text><text x="252" y="518">0</text>
<text x="252" y="528">1</text><text x="252" y="547">0.75</text><text x="252" y="566">0.5</text><text x="252" y="586">0.25</text><text x="252" y="605">0</text></g>

<g font-size="11">
<text x="5" y="19">Czas lokalny</text>
<text x="5" y="30">(CET/CEST)</text>
<text x="5" y="47" fill="#c02020">Temperatura gruntu</text>
<text x="28" y="58" fill="#c02020">max/min</text>
<text x="5" y="69">Temperatura:</text>
<text x="12" y="81" fill="#f00000">punkt środkowy</text>
<text x="28" y="92" fill="#ffc8b8">max/min</text>
<text x="10" y="102" fill="#0010f0">odczuwana</text>
<text x="28" y="112" fill="#a0d8ff">max/min</text>
<text x="5" y="123" fill="#7060d0">Temp. punktu rosy</text>
<text x="5" y="141" fill="#f00000">Opad powyżej skali</text>
<text x="5" y="156" fill="#e8501a">Wilgotność względna</text>
<text x="5" y="170">Wystąpienie burzy</text>
<text x="5" y="183" fill="#10a010">Deszcz: max</text>
<text x="49" y="194" fill="#10a010">średni</text>
<text x="5" y="205" fill="#1a3ad0">Śnieg:</text>
<text x="48" y="205" fill="#1a3ad0">max</text>
<text x="49" y="215" fill="#1a3ad0">średni</text>
<text x="5" y="229" fill="#f00000">Wystąpienie opadu</text>
<text x="5" y="241" fill="#f00000">konwekcyjnego</text>
<text x="5" y="267">Ciśnienie</text>
<text x="5" y="280">zredukowane</text>
<text x="5" y="293">do poziomu morza</text>
<text x="5" y="322">Wiatr na 10m:</text>
<text x="9" y="338" fill="#f00000">poryw powyżej skali</text>
<text x="9" y="353" fill="#f00000">max porywy wiatru</text>
<text x="9" y="372" fill="#1a1aa0">prędkość wiatru</text>
<text x="9" y="385" fill="#1a1aa0">w środku obszaru</text>
<text x="9" y="413" fill="#1a1aa0">kierunek wiatru</text>
<text x="5" y="433" fill="#a02020">Wierzchołek chmur</text>
<text x="5" y="448">Podstawa chmur*</text>
<text x="5" y="460">o pokryciu</text>
<text x="10" y="473">&gt; 7.9 okt.</text>
<text x="10" y="484" fill="#404040">&gt; 6.5 okt.</text>
<text x="10" y="495" fill="#909090">&gt; 4.5 okt.</text>
<rect x="10" y="507" width="46" height="12" fill="#87cefa"/>
<text x="10" y="505" fill="#d0d0d0">&gt; 2.5 okt.</text>
<text x="10" y="517" fill="#fff">&gt; 0.1 okt.</text>
<text x="5" y="530" fill="#ff8c00">Widzialność</text>
<text x="5" y="549">Chmury:</text>
<rect x="10" y="550" width="42" height="13" fill="#87cefa"/>
<text x="11" y="561" fill="#fff">wysokie</text>
<text x="10" y="574" fill="#a0a0a0">średnie</text>
<text x="10" y="586">niskie</text>
<text x="10" y="598">bardzo niskie</text>
<text x="5" y="609" fill="#ffaa00">Mgła</text>
<text x="5" y="627">Czas uniwersalny (UTC)</text>
<text x="5" y="651" font-size="9">* powyżej poziomu morza</text>
</g>
<g fill="none" stroke-width="1">
<path d="M72 15H135L158 45" stroke="#000"/>
<path d="M102 43H118L152 88" stroke="#c02020"/>
<path d="M92 77H115L130 80L152 105" stroke="#f00000"/>
<path d="M70 98H135" stroke="#0010f0"/>
<path d="M92 119H135" stroke="#7060d0"/>
<path d="M105 137H146V145" stroke="#f00000"/>
<path d="M116 152H122L150 170" stroke="#e8501a"/>
<path d="M98 166H115L135 170" stroke="#000"/>
<path d="M75 180H140" stroke="#10a010"/>
<path d="M80 190H150" stroke="#10a010"/>
<path d="M70 202H115L160 170" stroke="#1a3ad0"/>
<path d="M80 212H120L165 175" stroke="#1a3ad0"/>
<path d="M100 225H140L145 220" stroke="#f00000"/>
<path d="M50 263H135" stroke="#000"/>
<path d="M110 334H125L135 316" stroke="#f00000"/>
<path d="M103 349H125L145 340" stroke="#f00000"/>
<path d="M92 368H135L150 372" stroke="#1a1aa0"/>
<path d="M85 409H140" stroke="#1a1aa0"/>
<path d="M100 429H170L190 450" stroke="#a02020"/>
<path d="M58 469H135L185 458" stroke="#000"/>
<path d="M58 480H143" stroke="#404040"/>
<path d="M58 491H135L143 500" stroke="#909090"/>
<path d="M58 513H143" stroke="#87cefa"/>
<path d="M68 526H128L168 466" stroke="#ff8c00"/>
<path d="M54 557H190" stroke="#87cefa"/>
<path d="M50 570H185" stroke="#a0a0a0"/>
<path d="M45 582H135" stroke="#000"/>
<path d="M75 594H165" stroke="#000"/>
<path d="M35 605H216L220 595" stroke="#ffaa00"/>
<path d="M140 623H148L156 610" stroke="#000"/>
</g>
</svg>
</body></html>
